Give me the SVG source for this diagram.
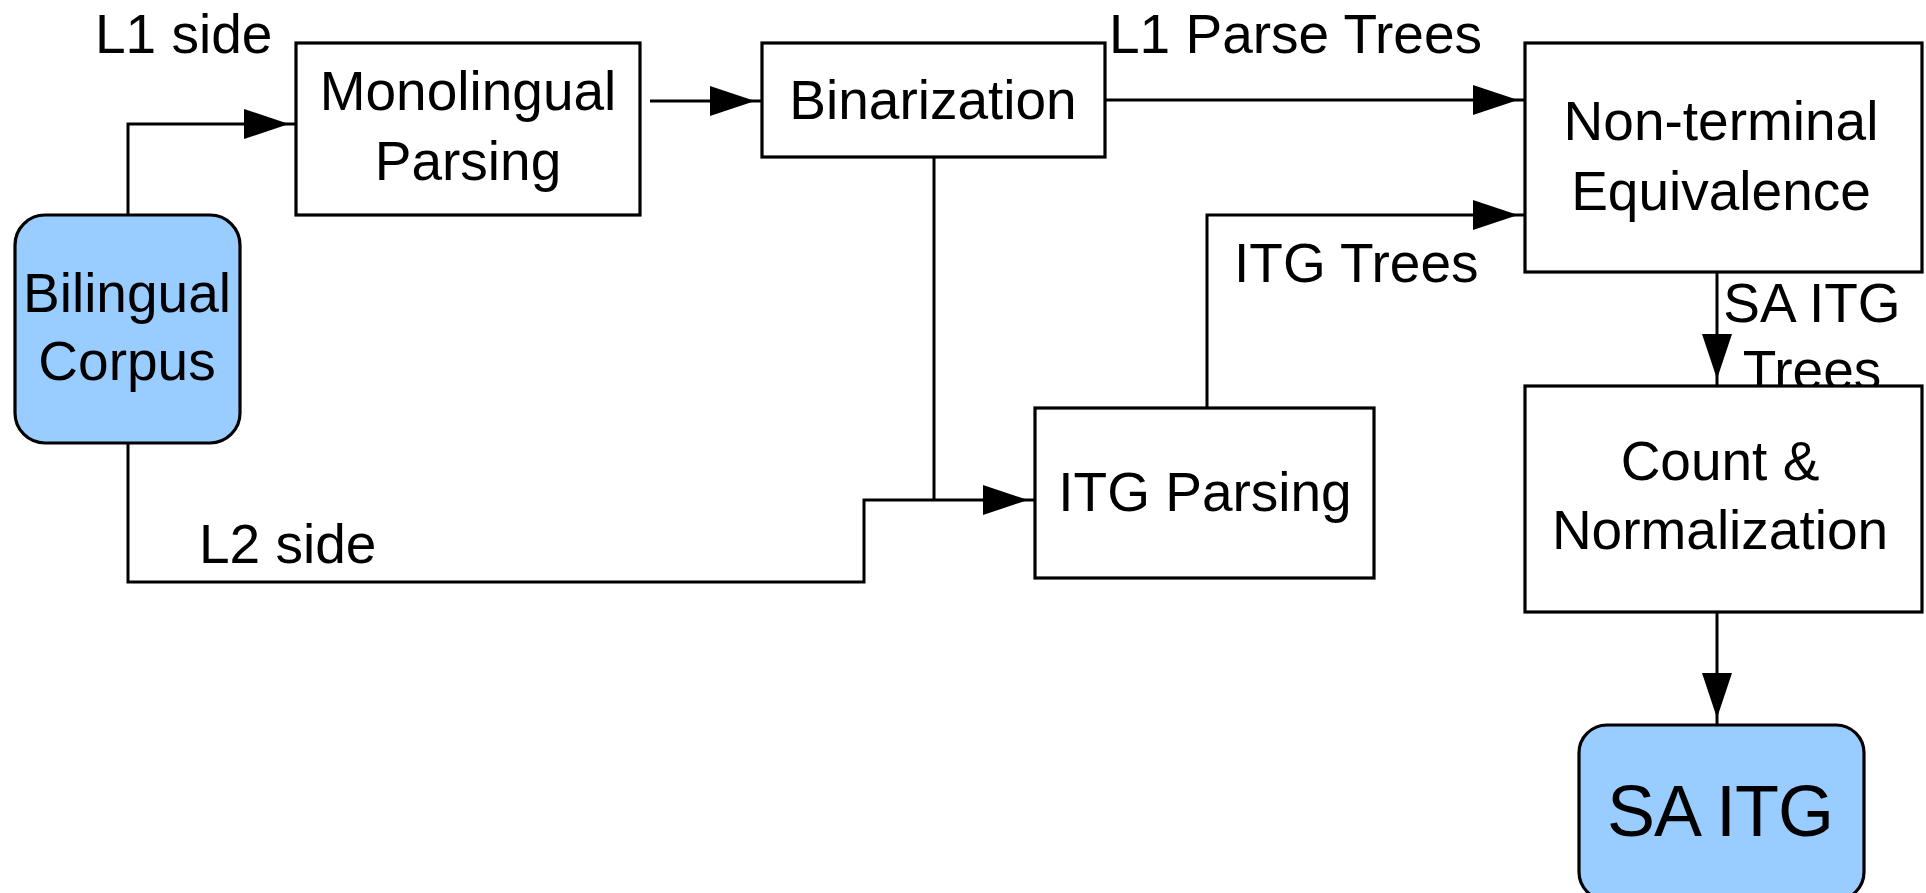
<svg xmlns="http://www.w3.org/2000/svg" width="1926" height="893" viewBox="0 0 1926 893">
<style>
  .box { fill: #ffffff; stroke: #000000; stroke-width: 3.2; }
  .term { fill: #99ccff; stroke: #000000; stroke-width: 3.2; }
  .t { font-family: "Liberation Sans", Arial, sans-serif; font-size: 55px; fill: #000000; }
  .c { text-anchor: middle; }
  .big { font-size: 72px; letter-spacing: -1px; }
  .edge { fill: none; stroke: #000000; stroke-width: 3; }
</style>
<defs>
  <marker id="arr" markerUnits="userSpaceOnUse" viewBox="0 0 52 30" refX="52" refY="15" markerWidth="52" markerHeight="30" orient="auto">
    <path d="M0,0 L45,15 L0,30 Z" fill="#000000"/>
  </marker>
</defs>
<rect width="1926" height="893" fill="#ffffff"/>
<g id="connectors">
  <path class="edge" d="M128,215 V124 H296" marker-end="url(#arr)"/>
  <path class="edge" d="M650,101 H762" marker-end="url(#arr)"/>
  <path class="edge" d="M1105,100 H1525" marker-end="url(#arr)"/>
  <path class="edge" d="M934,157 V500"/>
  <path class="edge" d="M128,443 V582 H864 V500 H1035" marker-end="url(#arr)"/>
  <path class="edge" d="M1207,408 V215 H1525" marker-end="url(#arr)"/>
  <path class="edge" d="M1717,272 V386" marker-end="url(#arr)"/>
  <path class="edge" d="M1717,612 V725" marker-end="url(#arr)"/>
  <text class="t" x="95" y="53">L1 side</text>
  <text class="t" x="1109" y="53">L1 Parse Trees</text>
  <text class="t" x="1234" y="282">ITG Trees</text>
  <text class="t" x="199" y="563">L2 side</text>
  <text class="t c" x="1812" y="322">SA ITG</text>
  <text class="t c" x="1812" y="389">Trees</text>
</g>
<g id="bilingual-corpus">
  <rect class="term" x="15" y="215" width="225" height="228" rx="30" ry="30"/>
  <text class="t c" x="127" y="312">Bilingual</text>
  <text class="t c" x="127" y="380">Corpus</text>
</g>
<g id="monolingual-parsing">
  <rect class="box" x="296" y="43" width="344" height="172"/>
  <text class="t c" x="468" y="110">Monolingual</text>
  <text class="t c" x="468" y="180">Parsing</text>
</g>
<g id="binarization">
  <rect class="box" x="762" y="43" width="343" height="114"/>
  <text class="t c" x="933" y="119">Binarization</text>
</g>
<g id="non-terminal-equivalence">
  <rect class="box" x="1525" y="43" width="397" height="229"/>
  <text class="t c" x="1721" y="140">Non-terminal</text>
  <text class="t c" x="1721" y="210">Equivalence</text>
</g>
<g id="itg-parsing">
  <rect class="box" x="1035" y="408" width="339" height="170"/>
  <text class="t c" x="1205" y="511">ITG Parsing</text>
</g>
<g id="count-normalization">
  <rect class="box" x="1525" y="386" width="397" height="226"/>
  <text class="t c" x="1720" y="480">Count &amp;</text>
  <text class="t c" x="1720" y="549">Normalization</text>
</g>
<g id="sa-itg">
  <rect class="term" x="1579" y="725" width="285" height="175" rx="28" ry="28"/>
  <text class="t c big" x="1720" y="836">SA ITG</text>
</g>
</svg>
